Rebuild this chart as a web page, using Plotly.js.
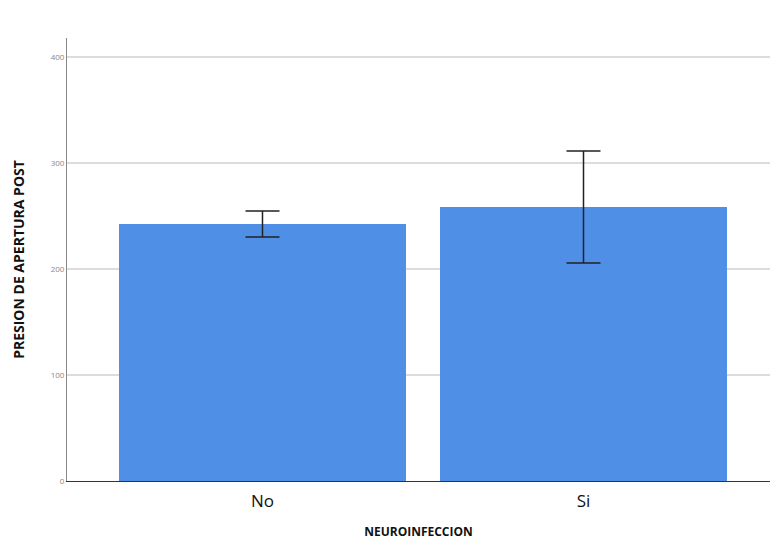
<!DOCTYPE html>
<html>
<head>
<meta charset="utf-8">
<script src="https://cdn.plot.ly/plotly-3.0.1.min.js"></script>
<style>html,body{margin:0;padding:0;background:#fff;}#chart{width:770px;height:540px;}</style>
</head>
<body>
<div id="chart"></div>
<script>
const categories = ["No", "Si"];
const means = [242.5, 258.5];
const upper = [254.7, 311.3];
const lower = [230.2, 205.7];
const yTicks = [0, 100, 200, 300, 400];

const errPlus = means.map((m, i) => upper[i] - m);
const errMinus = means.map((m, i) => m - lower[i]);

const trace = {
  type: "bar",
  x: categories,
  y: means,
  width: 0.894,
  marker: {color: "#4f8fe6"},
  error_y: {
    type: "data",
    symmetric: false,
    array: errPlus,
    arrayminus: errMinus,
    color: "#222222",
    thickness: 1.5,
    width: 17
  },
  hoverinfo: "none"
};

const layout = {
  width: 770,
  height: 540,
  margin: {l: 67, r: 0, t: 38, b: 59},
  paper_bgcolor: "#ffffff",
  plot_bgcolor: "#ffffff",
  showlegend: false,
  xaxis: {
    range: [-0.609, 1.581],
    showgrid: false,
    showline: true,
    linecolor: "#333333",
    linewidth: 1,
    ticks: "",
    ticklabelstandoff: 5,
    tickfont: {family: "Open Sans, Liberation Sans, sans-serif", size: 17, color: "#111111"},
    title: {text: "<b>NEUROINFECCION</b>", font: {family: "Open Sans, Liberation Sans, sans-serif", size: 12, color: "#111111"}, standoff: 20},
    zeroline: false
  },
  yaxis: {
    range: [0, 418],
    tickvals: yTicks,
    ticktext: yTicks.map(String),
    showgrid: true,
    gridcolor: "#dcdcdc",
    gridwidth: 1.5,
    showline: true,
    linecolor: "#888888",
    linewidth: 1,
    ticks: "",
    zeroline: false,
    tickfont: {family: "Open Sans, Liberation Sans, sans-serif", size: 8, color: "#888888"},
    title: {text: "<b>PRESION DE APERTURA POST</b>", font: {family: "Open Sans, Liberation Sans, sans-serif", size: 14, color: "#111111"}, standoff: 22}
  }
};

Plotly.newPlot("chart", [trace], layout, {displayModeBar: false, staticPlot: true});
</script>
</body>
</html>
